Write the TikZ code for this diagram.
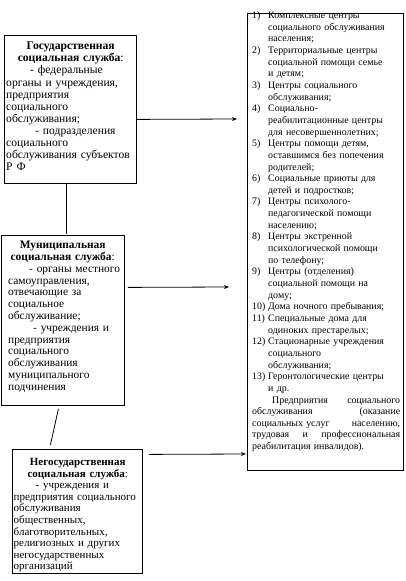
\documentclass[tikz,border=0pt]{standalone}
\usepackage{fontspec}
\setmainfont{Liberation Serif}
\usetikzlibrary{arrows.meta}
\tikzset{
  frame/.style={draw, line width=0.8pt, anchor=north west, inner sep=0pt},
  txt/.style={anchor=north west, inner sep=0pt, align=left},
  ltxt/.style={txt, font=\fontsize{11.6}{12.1}\selectfont},
  arr/.style={line width=0.8pt, -{Stealth[length=5pt,width=4pt]}},
  ln/.style={line width=0.8pt}
}
\newcommand{\nm}[1]{\makebox[16pt][l]{#1}}
\newcommand{\ct}{\hspace*{16pt}}
\newcommand{\jl}[1]{\makebox[148pt][s]{#1}}
\begin{document}
\begin{tikzpicture}[x=1pt,y=-1pt]
\useasboundingbox (0,0) rectangle (406,581);
% frames
\node[frame, minimum width=132pt, minimum height=148pt] (g) at (4,35) {};
\node[frame, minimum width=123pt, minimum height=170pt] (m) at (1,235) {};
\node[frame, minimum width=130pt, minimum height=124pt] (n) at (12,449) {};
\node[frame, minimum width=156pt, minimum height=457pt] (r) at (247,13) {};
% texts
\node[ltxt, text width=129pt] (gt) at (6,42) {%
{\centering\textbf{Государственная}\\ \textbf{социальная служба}:\par}
\hspace*{24pt}- федеральные\\
органы и учреждения,\\
предприятия\\
социального\\
обслуживания;\\
\hspace*{29pt}- подразделения\\
социального\\
обслуживания субъектов\\
Р Ф};
\node[ltxt, text width=115pt, font=\fontsize{11.4}{11.8}\selectfont] (mt) at (8,241) {%
{\centering\hspace*{-6pt}\textbf{Муниципальная}\\ \hspace*{-6pt}\textbf{социальная служба}:\par}
\hspace*{21pt}- органы местного\\
самоуправления,\\
отвечающие за\\
социальное\\
обслуживание;\\
\hspace*{25pt}- учреждения и\\
предприятия\\
социального\\
обслуживания\\
муниципального\\
подчинения};
\node[ltxt, text width=128pt, font=\fontsize{11}{11.6}\selectfont] (nt) at (13.5,458) {%
{\centering\textbf{Негосударственная}\\ \textbf{социальная служба}:\par}
\hspace*{22pt}- учреждения и\\
\mbox{предприятия социального}\\
обслуживания\\
общественных,\\
благотворительных,\\
религиозных и других\\
негосударственных\\
организаций};
\node[txt, text width=150pt, font=\fontsize{9.9}{11.65}\selectfont] (rt) at (252,11.5) {%
\nm{1)}Комплексные центры\\ \ct социального обслуживания\\ \ct населения;\\
\nm{2)}Территориальные центры\\ \ct социальной помощи семье\\ \ct и детям;\\
\nm{3)}Центры социального\\ \ct обслуживания;\\
\nm{4)}Социально-\\ \ct реабилитационные центры\\ \ct для несовершеннолетних;\\
\nm{5)}Центры помощи детям,\\ \ct оставшимся без попечения\\ \ct родителей;\\
\nm{6)}Социальные приюты для\\ \ct детей и подростков;\\
\nm{7)}Центры психолого-\\ \ct педагогической помощи\\ \ct населению;\\
\nm{8)}Центры экстренной\\ \ct психологической помощи\\ \ct по телефону;\\
\nm{9)}Центры (отделения)\\ \ct социальной помощи на\\ \ct дому;\\
\nm{10)}Дома ночного пребывания;\\
\nm{11)}Специальные дома для\\ \ct одиноких престарелых;\\
\nm{12)}Стационарные учреждения\\ \ct социального\\ \ct обслуживания;\\
\nm{13)}Геронтологические центры\\ \ct и др.\\
\hspace*{20pt}\makebox[128pt][s]{Предприятия\hfill социального}\\
\jl{обслуживания\hfill (оказание}\\
\jl{социальных услуг\hfill населению,}\\
\jl{трудовая\hfill и\hfill профессиональная}\\
реабилитация инвалидов).};
% connectors
\coordinate (e1) at (237,119);
\coordinate (e2) at (229,287);
\coordinate (e3) at (246,454);
\draw[arr] ([yshift=-10pt]g.east) -- (e1);
\draw[arr] ([xshift=3pt,yshift=33pt]m.east) -- (e2);
\draw[arr] ([xshift=6pt,yshift=57pt]n.east) -- (e3);
\draw[ln] ([xshift=-4pt]g.south) -- ([xshift=3.5pt,yshift=1pt]m.north);
\draw[ln] ([xshift=-4.5pt,yshift=-3pt]m.south) -- ([xshift=-27pt,yshift=4pt]n.north);
\end{tikzpicture}
\end{document}
